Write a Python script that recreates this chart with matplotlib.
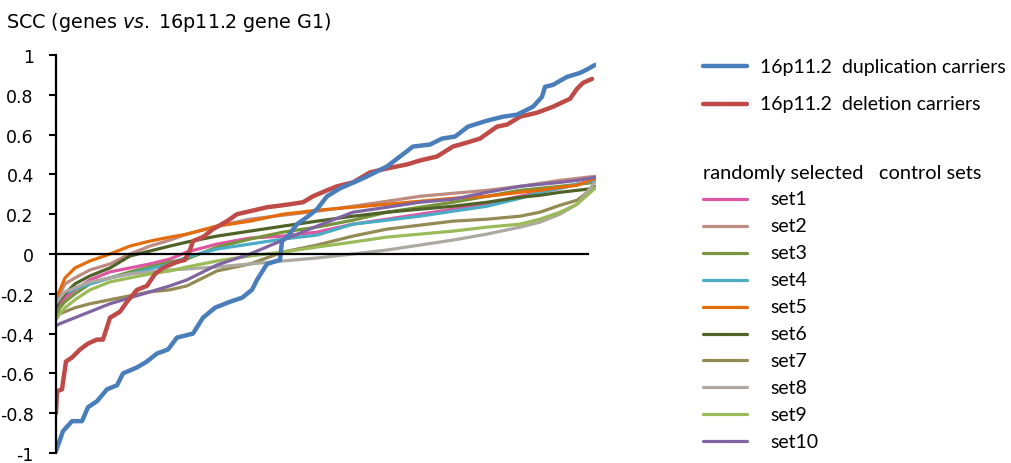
import matplotlib
matplotlib.use("Agg")
import matplotlib.pyplot as plt
from matplotlib.lines import Line2D
import numpy as np

plt.rcParams['font.family'] = ['DejaVu Sans']
plt.rcParams['mathtext.fontset'] = 'custom'
plt.rcParams['mathtext.it'] = 'DejaVu Sans:italic'
plt.rcParams['mathtext.rm'] = 'DejaVu Sans'

# gene rank (sorted by SCC) for the two carrier groups
dup_rank = [0, 7, 16, 26, 32, 41, 51, 61, 67, 81, 91, 101, 112, 121, 137, 147, 159, 174,
            186, 196, 201, 211, 224, 226, 232, 241, 251, 261, 271, 284, 307, 331, 344, 357,
            374, 386, 399, 412, 431, 447, 461, 477, 486, 489, 497, 511, 524, 532, 539]
dup_scc = [-0.99, -0.89, -0.84, -0.84, -0.77, -0.74, -0.68, -0.66, -0.60, -0.57, -0.54, -0.50,
           -0.48, -0.42, -0.40, -0.32, -0.27, -0.24, -0.22, -0.18, -0.13, -0.05, -0.03, 0.065,
           0.09, 0.15, 0.185, 0.225, 0.29, 0.33, 0.38, 0.44, 0.49, 0.54, 0.55, 0.58, 0.59,
           0.64, 0.67, 0.69, 0.70, 0.74, 0.79, 0.84, 0.85, 0.89, 0.91, 0.93, 0.95]

del_rank = [0, 1, 6, 10, 16, 24, 32, 41, 47, 54, 64, 71, 81, 91, 99, 107, 121, 129, 134,
            137, 147, 157, 171, 181, 194, 211, 227, 247, 257, 271, 281, 297, 314, 331, 351,
            364, 381, 397, 411, 424, 441, 451, 464, 481, 497, 514, 521, 527, 536]
del_scc = [-0.80, -0.69, -0.68, -0.54, -0.52, -0.48, -0.45, -0.43, -0.43, -0.32, -0.29, -0.24,
           -0.18, -0.16, -0.10, -0.07, -0.04, -0.03, 0.02, 0.065, 0.085, 0.125, 0.165, 0.20,
           0.215, 0.235, 0.245, 0.26, 0.29, 0.32, 0.34, 0.36, 0.41, 0.43, 0.45, 0.47, 0.49,
           0.54, 0.56, 0.58, 0.64, 0.65, 0.69, 0.71, 0.74, 0.78, 0.83, 0.86, 0.88]

# shared rank grid for the control sets
ctrl_rank = [0, 4, 9, 19, 34, 54, 74, 94, 114, 131, 161, 194, 227, 261, 297, 331, 364, 397,
             431, 464, 484, 504, 521, 539]

set1 = [-0.30, -0.26, -0.22, -0.18, -0.13, -0.09, -0.07, -0.05, -0.025, 0.01, 0.05, 0.08,
        0.09, 0.11, 0.15, 0.175, 0.20, 0.225, 0.255, 0.29, 0.31, 0.33, 0.35, 0.37]
set2 = [-0.27, -0.20, -0.15, -0.12, -0.08, -0.05, 0.0, 0.04, 0.07, 0.10, 0.14, 0.175,
        0.195, 0.215, 0.24, 0.265, 0.29, 0.305, 0.32, 0.34, 0.355, 0.37, 0.38, 0.39]
set3 = [-0.31, -0.27, -0.24, -0.20, -0.15, -0.12, -0.09, -0.065, -0.04, -0.025, 0.035, 0.075,
        0.11, 0.135, 0.17, 0.21, 0.235, 0.26, 0.29, 0.32, 0.33, 0.34, 0.35, 0.36]
set4 = [-0.24, -0.22, -0.20, -0.175, -0.15, -0.12, -0.10, -0.075, -0.05, -0.015, 0.025, 0.05,
        0.075, 0.095, 0.15, 0.17, 0.19, 0.215, 0.24, 0.28, 0.31, 0.33, 0.35, 0.37]
set5 = [-0.22, -0.18, -0.12, -0.07, -0.035, 0.0, 0.04, 0.065, 0.085, 0.10, 0.14, 0.165,
        0.20, 0.22, 0.235, 0.25, 0.265, 0.28, 0.29, 0.31, 0.32, 0.335, 0.345, 0.38]
set6 = [-0.27, -0.23, -0.20, -0.15, -0.11, -0.07, -0.01, 0.015, 0.04, 0.06, 0.09, 0.115,
        0.14, 0.165, 0.19, 0.21, 0.225, 0.24, 0.26, 0.285, 0.295, 0.31, 0.32, 0.33]
set7 = [-0.31, -0.30, -0.29, -0.27, -0.25, -0.23, -0.21, -0.19, -0.18, -0.16, -0.085, -0.05,
        0.01, 0.045, 0.09, 0.125, 0.145, 0.165, 0.175, 0.19, 0.21, 0.245, 0.27, 0.34]
set8 = [-0.25, -0.22, -0.19, -0.17, -0.14, -0.12, -0.10, -0.09, -0.08, -0.075, -0.065, -0.05,
        -0.035, -0.02, 0.0, 0.02, 0.045, 0.07, 0.10, 0.135, 0.16, 0.20, 0.25, 0.36]
set9 = [-0.33, -0.30, -0.27, -0.23, -0.18, -0.14, -0.12, -0.10, -0.085, -0.065, -0.035, -0.01,
        0.01, 0.035, 0.06, 0.085, 0.10, 0.115, 0.135, 0.15, 0.175, 0.21, 0.25, 0.33]
set10 = [-0.36, -0.35, -0.34, -0.32, -0.29, -0.25, -0.22, -0.19, -0.16, -0.13, -0.055, 0.0,
         0.07, 0.14, 0.21, 0.235, 0.26, 0.275, 0.31, 0.34, 0.35, 0.36, 0.37, 0.385]

control_sets = [set1, set2, set3, set4, set5, set6, set7, set8, set9, set10]
control_names = ['set1', 'set2', 'set3', 'set4', 'set5', 'set6', 'set7', 'set8', 'set9', 'set10']
control_colors = ['#DE55A2', '#BF8A82', '#77933C', '#4BACC6', '#E46C0A',
                  '#4F6228', '#948A54', '#ADA9A0', '#9BBB59', '#8064A2']
dup_color = '#4A7EBB'
del_color = '#BE4B48'

fig = plt.figure(figsize=(10.11, 4.64), dpi=100)
ax = fig.add_axes([56 / 1011, 10 / 464, 540 / 1011, 398 / 464])

for vals, col in zip(control_sets, control_colors):
    ax.plot(ctrl_rank, vals, color=col, lw=2.3, solid_capstyle='round')
ax.plot(del_rank, del_scc, color=del_color, lw=3.2, solid_capstyle='round')
ax.plot(dup_rank, dup_scc, color=dup_color, lw=3.2, solid_capstyle='round')

ax.axhline(0, xmin=0, xmax=0.985, color='black', lw=1.6, zorder=5)

ax.set_xlim(0, 540)
ax.set_ylim(-1, 1)
ax.set_yticks(np.arange(-1, 1.01, 0.2))
ax.set_yticklabels(['-1', '-0.8', '-0.6', '-0.4', '-0.2', '0', '0.2', '0.4', '0.6', '0.8', '1'])
ax.set_xticks([])
for side in ['top', 'right', 'bottom']:
    ax.spines[side].set_visible(False)
ax.spines['left'].set_linewidth(1.6)
ax.tick_params(axis='y', direction='out', length=5, width=1.5, labelsize=12.5, pad=11)

fig.text(6 / 1011, 1 - 22 / 464, r'SCC (genes $\mathit{vs.}\;$16p11.2 gene G1)',
         fontsize=13.8, va='center', ha='left')

# legend, drawn by hand
leg_font = ['Lato', 'DejaVu Sans']
x0, x1, xt = 703 / 1011, 747 / 1011, 760 / 1011


def fy(py):
    return 1 - py / 464


for py, col, txt in [(67, dup_color, '16p11.2  duplication carriers'),
                     (105, del_color, '16p11.2  deletion carriers')]:
    fig.add_artist(Line2D([x0, x1], [fy(py), fy(py)], color=col, lw=3.2,
                          solid_capstyle='round'))
    fig.text(xt, fy(py), txt, fontsize=14, va='center', ha='left', family=leg_font)

fig.text(x0, fy(174), 'randomly selected   control sets', fontsize=14.4, va='center',
         ha='left', family=leg_font)
for i, (name, col) in enumerate(zip(control_names, control_colors)):
    py = 200 + i * 26.9
    fig.add_artist(Line2D([x0, x1], [fy(py), fy(py)], color=col, lw=2.3,
                          solid_capstyle='round'))
    fig.text(770 / 1011, fy(py), name, fontsize=14, va='center', ha='left',
             family=leg_font)

fig.savefig('out.png', dpi=100)
